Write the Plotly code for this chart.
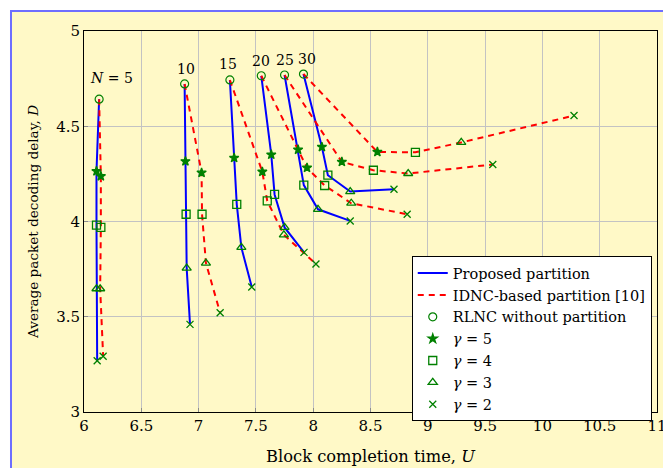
import plotly.graph_objects as go

# ---- data ----
N_values = [5, 10, 15, 20, 25, 30]
gammas = [5, 4, 3, 2]

# RLNC without partition (start of each curve)
rlnc_U = [6.132, 6.878, 7.273, 7.547, 7.750, 7.915]
rlnc_D = [4.642, 4.722, 4.743, 4.765, 4.769, 4.774]

# Proposed partition, per N, for gamma = 5, 4, 3, 2
prop_U = [
    [6.109, 6.109, 6.109, 6.115],
    [6.885, 6.891, 6.896, 6.925],
    [7.310, 7.333, 7.373, 7.464],
    [7.634, 7.663, 7.750, 7.920],
    [7.868, 7.918, 8.042, 8.323],
    [8.076, 8.128, 8.323, 8.705],
]
prop_D = [
    [4.264, 3.981, 3.647, 3.269],
    [4.316, 4.038, 3.755, 3.460],
    [4.334, 4.090, 3.864, 3.656],
    [4.351, 4.142, 3.969, 3.838],
    [4.377, 4.191, 4.064, 4.003],
    [4.391, 4.243, 4.157, 4.169],
]

# IDNC-based partition [10], per N, for gamma = 5, 4, 3, 2
idnc_U = [
    [6.147, 6.147, 6.141, 6.167],
    [7.026, 7.030, 7.064, 7.188],
    [7.556, 7.599, 7.744, 8.024],
    [7.946, 8.100, 8.332, 8.820],
    [8.250, 8.525, 8.829, 9.567],
    [8.560, 8.892, 9.292, 10.276],
]
idnc_D = [
    [4.238, 3.969, 3.647, 3.293],
    [4.256, 4.038, 3.782, 3.521],
    [4.261, 4.108, 3.930, 3.777],
    [4.282, 4.189, 4.096, 4.038],
    [4.313, 4.269, 4.252, 4.299],
    [4.365, 4.363, 4.415, 4.556],
]

x_ticks = [6, 6.5, 7, 7.5, 8, 8.5, 9, 9.5, 10, 10.5, 11]
y_ticks = [3, 3.5, 4, 4.5, 5]

# ---- styling ----
FONT = "DejaVu Serif"
BG = "rgb(255,249,199)"
GREEN = "rgb(0,128,0)"
BLUE = "rgb(0,0,255)"
RED = "rgb(255,0,0)"

fig = go.Figure()

# lines
for i, n in enumerate(N_values):
    fig.add_trace(go.Scatter(
        x=[rlnc_U[i]] + prop_U[i], y=[rlnc_D[i]] + prop_D[i],
        mode="lines", line=dict(color=BLUE, width=2),
        name="Proposed partition", legendgroup="prop",
        showlegend=(i == 0), hoverinfo="skip"))
for i, n in enumerate(N_values):
    fig.add_trace(go.Scatter(
        x=[rlnc_U[i]] + idnc_U[i], y=[rlnc_D[i]] + idnc_D[i],
        mode="lines", line=dict(color=RED, width=2, dash="6px,5px"),
        name="IDNC-based partition [10]", legendgroup="idnc",
        showlegend=(i == 0), hoverinfo="skip"))

# markers
fig.add_trace(go.Scatter(
    x=rlnc_U, y=rlnc_D, mode="markers", name="RLNC without partition",
    marker=dict(symbol="circle-open", size=8, color=GREEN, line=dict(width=1.2, color=GREEN))))

symbols = {5: ("star", 7), 4: ("square-open", 8), 3: ("triangle-up-open", 8), 2: ("x-thin-open", 7)}
for j, g in enumerate(gammas):
    xs = [row[j] for row in prop_U] + [row[j] for row in idnc_U]
    ys = [row[j] for row in prop_D] + [row[j] for row in idnc_D]
    sym, sz = symbols[g]
    fig.add_trace(go.Scatter(
        x=xs, y=ys, mode="markers", name=f"<i>γ</i> = {g}",
        marker=dict(symbol=sym, size=sz, color=GREEN, line=dict(width=1.3, color=GREEN))))

# N labels
label_dx = [12, 1, -2, 0, 0, 4]
label_dy = [21, 15, 16, 15, 15, 15]
for i, n in enumerate(N_values):
    txt = f"<i>N</i> = {n}" if i == 0 else str(n)
    fig.add_annotation(
        x=rlnc_U[i], y=rlnc_D[i], text=txt, showarrow=False,
        xshift=label_dx[i], yshift=label_dy[i],
        yanchor="middle", font=dict(family=FONT, size=14, color="black"))

# yellow background with blue frame
fig.add_shape(type="rect", xref="paper", yref="paper",
              x0=-0.1274, x1=1.05, y0=-0.2, y1=1.0525,
              fillcolor=BG, line=dict(color="rgb(110,110,255)", width=2),
              layer="below")

axis_common = dict(
    showgrid=True, gridcolor="rgb(195,195,195)", gridwidth=1,
    showline=True, linecolor="black", linewidth=1, mirror=True,
    ticks="inside", ticklen=4, tickcolor="rgb(140,140,140)",
    tickfont=dict(family=FONT, size=15, color="black"),
    zeroline=False, automargin=False,
)

fig.update_layout(
    width=663, height=460,
    margin=dict(l=76, r=14, t=23, b=56),
    paper_bgcolor="white", plot_bgcolor=BG,
    font=dict(family=FONT, size=15, color="black"),
    xaxis=dict(range=[6, 11], tickvals=x_ticks, ticktext=[f"{v:g}" for v in x_ticks],
               title=dict(text="Block completion time, <i>U</i>", standoff=16,
                          font=dict(family=FONT, size=16.3)),
               **axis_common),
    yaxis=dict(range=[3, 5], tickvals=y_ticks, ticktext=[f"{v:g}" for v in y_ticks],
               title=dict(text="Average packet decoding delay, <i>D</i>", standoff=14,
                          font=dict(family=FONT, size=13.6)),
               **axis_common),
    legend=dict(x=0.572, y=0.409, xanchor="left", yanchor="top",
                bgcolor="white", bordercolor="black", borderwidth=1,
                font=dict(family=FONT, size=14.5), tracegroupgap=0,
                itemwidth=30),
    showlegend=True,
)

fig.write_html("out.html")
